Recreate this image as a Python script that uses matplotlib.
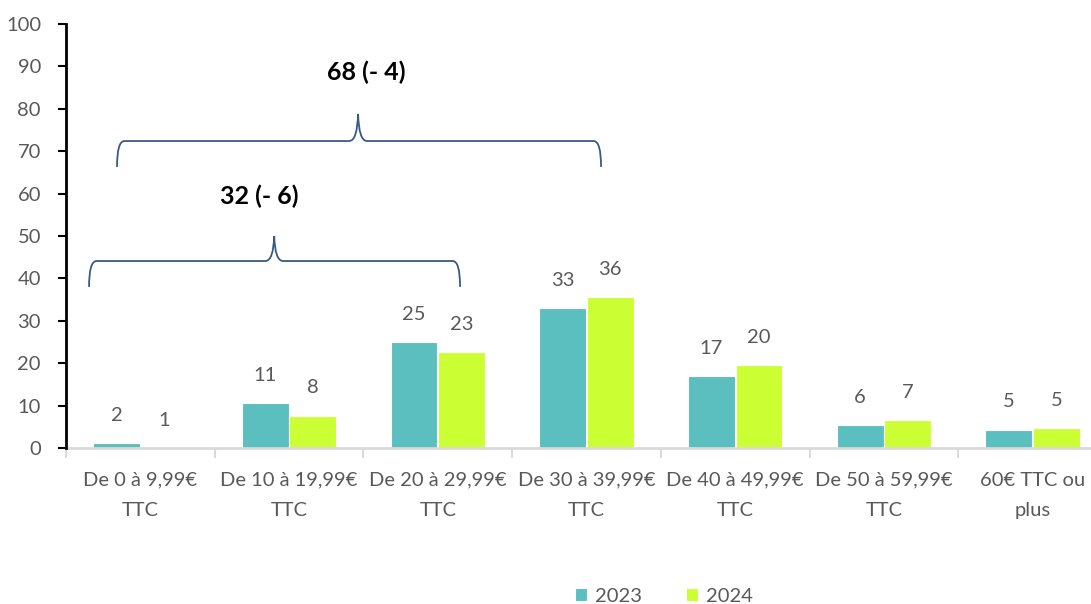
import matplotlib.pyplot as plt
from matplotlib.path import Path
from matplotlib.patches import PathPatch
import numpy as np

plt.rcParams['font.family'] = ['Lato', 'DejaVu Sans']

categories = ["De 0 à 9,99€\nTTC", "De 10 à 19,99€\nTTC", "De 20 à 29,99€\nTTC",
              "De 30 à 39,99€\nTTC", "De 40 à 49,99€\nTTC", "De 50 à 59,99€\nTTC",
              "60€ TTC ou\nplus"]
vals_2023 = [1.1, 10.6, 25.0, 33.0, 16.9, 5.4, 4.3]
vals_2024 = [0.0, 7.6, 22.6, 35.6, 19.6, 6.5, 4.7]
labels_2023 = ["2", "11", "25", "33", "17", "6", "5"]
labels_2024 = ["1", "8", "23", "36", "20", "7", "5"]

teal = "#5BBEBF"
lime = "#CCFF33"
grey = "#595959"
brace_col = "#3A5A85"

fig = plt.figure(figsize=(10.91, 6.04), dpi=100)
ax = fig.add_axes([66 / 1091, 1 - 448 / 604, 1041 / 1091, 424 / 604])

x = np.arange(len(categories))
w = 0.315
b1 = ax.bar(x - 0.16, vals_2023, w, color=teal, edgecolor="white", linewidth=0.8, label="2023")
b2 = ax.bar(x + 0.16, vals_2024, w, color=lime, edgecolor="white", linewidth=0.8, label="2024")

# data labels sit well above the bars
for xs, vs, ls in [(x - 0.16, vals_2023, labels_2023), (x + 0.16, vals_2024, labels_2024)]:
    for xi, v, l in zip(xs, vs, ls):
        ax.annotate(l, (xi, v), xytext=(0, 20), textcoords="offset points",
                    ha="center", va="center", fontsize=14.5, color=grey)

ax.set_xlim(-0.5, 6.5)
ax.set_ylim(0, 100)
ax.set_yticks(range(0, 101, 10))
ax.tick_params(axis="y", direction="out", length=6, width=1.5, color="black",
               labelsize=14.5, labelcolor=grey, pad=12)

ax.set_xticks(x)
ax.set_xticklabels(categories, fontsize=14.5, color=grey, linespacing=1.95)
ax.tick_params(axis="x", which="major", length=0, pad=17)
ax.set_xticks(np.arange(-0.5, 7, 1), minor=True)
ax.tick_params(axis="x", which="minor", length=7, width=1.5, color="#D9D9D9", direction="out")

for s in ["top", "right"]:
    ax.spines[s].set_visible(False)
ax.spines["left"].set_linewidth(2)
ax.spines["left"].set_color("black")
ax.spines["bottom"].set_linewidth(2)
ax.spines["bottom"].set_color("#D9D9D9")
ax.spines["left"].set_zorder(5)


def brace(x0, x1, xm, yh, ybot, ytip):
    rx = 0.05
    tx = 0.06
    verts = [(x0, ybot), (x0, yh), (x0 + rx, yh),
             (xm - tx, yh), (xm - 0.005, yh), (xm, ytip),
             (xm + 0.005, yh), (xm + tx, yh),
             (x1 - rx, yh), (x1, yh), (x1, ybot)]
    codes = [Path.MOVETO, Path.CURVE3, Path.CURVE3,
             Path.LINETO, Path.CURVE3, Path.CURVE3,
             Path.CURVE3, Path.CURVE3,
             Path.LINETO, Path.CURVE3, Path.CURVE3]
    ax.add_patch(PathPatch(Path(verts, codes), fill=False, edgecolor=brace_col,
                           linewidth=1.3, clip_on=False))


brace(-0.345, 2.15, 0.90, 44.1, 38.0, 50.0)
brace(-0.157, 3.098, 1.464, 72.4, 66.3, 78.8)
ax.text(0.80, 59.4, "32 (- 6)", ha="center", va="center", fontsize=18, fontweight="bold", color="black")
ax.text(1.52, 88.7, "68 (- 4)", ha="center", va="center", fontsize=18, fontweight="bold", color="black")

fig.legend(handles=[b1, b2], labels=["2023", "2024"], loc="center",
           bbox_to_anchor=(664 / 1091, 1 - 596 / 604), ncol=2, frameon=False,
           fontsize=14.5, labelcolor=grey, handlelength=0.6, handleheight=0.6,
           handletextpad=0.4, columnspacing=2.2)

fig.savefig("out.png", dpi=100)
